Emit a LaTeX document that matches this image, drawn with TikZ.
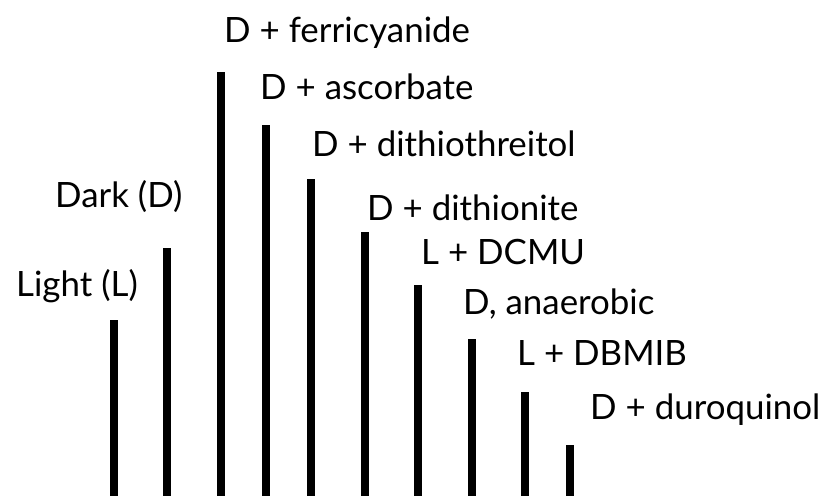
\documentclass[tikz,border=0pt]{standalone}
\usepackage{fontspec}
\setmainfont{Lato}
\begin{document}
\begin{tikzpicture}[x=1bp,y=1bp,
  bar/.style={line width=8bp,line cap=butt,black},
  lab/.style={anchor=base west,inner sep=0pt,font=\fontsize{35}{40}\selectfont}]
\useasboundingbox (0,0) rectangle (835,499);
% bars (bottom at y=3)
\foreach \x/\t in {114/320,167/248,221/72,266/125,311/179,365/232,418/285,472/339,525/392,570/445}
  \draw[bar] (\x,3) -- (\x,499-\t);
% labels
\node[lab] (light) at (16,499-297) {Light (L)};
\node[lab] (dark)  at (55,499-208) {Dark (D)};
\node[lab] (ferri) at (224,499-43) {D + ferricyanide};
\node[lab] (asc)   at (260,499-100) {D + ascorbate};
\node[lab] (dtt)   at (312,499-157) {D + dithiothreitol};
\node[lab] (dith)  at (367,499-221) {D + dithionite};
\node[lab] (dcmu)  at (421,499-265) {L + DCMU};
\node[lab] (anae)  at (463,499-315) {D, anaerobic};
\node[lab] (dbmib) at (517,499-366) {L + DBMIB};
\node[lab] (duro)  at (590,499-420) {D + duroquinol};
\end{tikzpicture}
\end{document}
